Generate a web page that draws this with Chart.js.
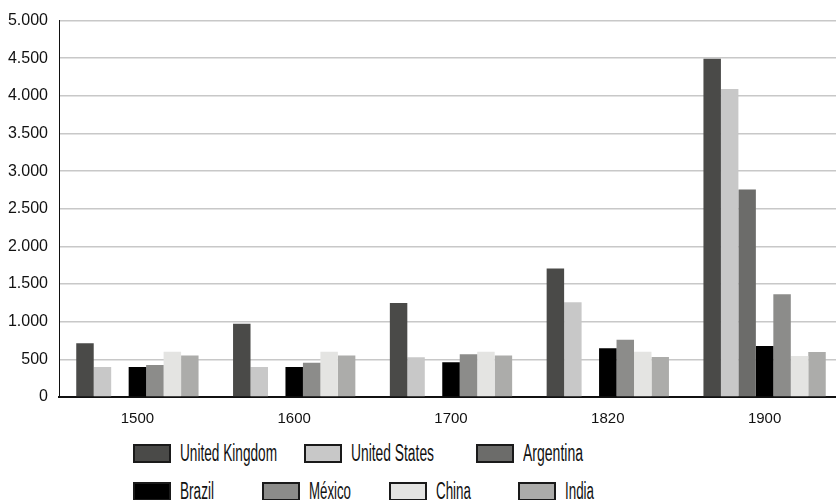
<!DOCTYPE html>
<html>
<head>
<meta charset="utf-8">
<script src="https://cdn.jsdelivr.net/npm/chart.js@4"></script>
<style>
  html, body { margin:0; padding:0; background:#fff; overflow:hidden; }
  #wrap { position:absolute; left:0; top:0; width:843px; height:433px; }
  .lg { position:absolute; display:flex; align-items:center; font-family:"Liberation Sans",Arial,sans-serif; font-size:23px; color:#111; white-space:nowrap; }
  .lg .bx { width:34px; height:15px; border:2px solid #1a1a1a; margin-right:9px; flex:none; }
  .lg .tx { display:inline-block; transform-origin:left center; }
</style>
</head>
<body>
<div id="wrap"><canvas id="c"></canvas></div>
<div id="legend"></div>
<script>
// ── Data ──────────────────────────────────────────────────────────
const years = ["1500", "1600", "1700", "1820", "1900"];
const countries = ["United Kingdom", "United States", "Argentina", "Brazil", "México", "China", "India"];
const colors = ["#4a4a48", "#c8c8c8", "#6c6c6a", "#000000", "#8c8c8a", "#e4e4e2", "#acacaa"];

const ukVals  = [714, 974, 1250, 1706, 4492];
const usVals  = [400, 400, 527, 1257, 4091];
const argVals = [null, null, null, null, 2756];
const braVals = [400, 400, 460, 646, 678];
const mexVals = [425, 454, 568, 759, 1366];
const chnVals = [600, 600, 600, 600, 545];
const indVals = [550, 550, 550, 533, 599];

const yTicks = [0, 500, 1000, 1500, 2000, 2500, 3000, 3500, 4000, 4500, 5000];

const series = [ukVals, usVals, argVals, braVals, mexVals, chnVals, indVals];

const fmtNum = v => String(v).replace(/\B(?=(\d{3})+(?!\d))/g, ".");

// ── Chart ─────────────────────────────────────────────────────────
new Chart(document.getElementById("c").getContext("2d"), {
  type: "bar",
  data: {
    labels: years,
    datasets: series.map((vals, i) => ({
      label: countries[i], data: vals, backgroundColor: colors[i], borderWidth: 0
    }))
  },
  options: {
    responsive: true, maintainAspectRatio: false, animation: false,
    layout: { padding: { top: 16, right: 0, left: 0, bottom: 0 } },
    datasets: { bar: { barPercentage: 1, categoryPercentage: 0.78 } },
    plugins: { legend: { display: false }, tooltip: { enabled: false } },
    scales: {
      x: {
        grid: { display: false },
        border: { color: "#111", width: 2 },
        ticks: { color: "#111", padding: 5, font: { family: "Liberation Sans", size: 15 } }
      },
      y: {
        min: 0, max: 5000,
        afterFit: s => { s.width = 59; },
        afterBuildTicks: s => { s.ticks = yTicks.map(v => ({ value: v })); },
        grid: { color: "#c8c8c8", lineWidth: 1.5, drawTicks: false },
        border: { color: "#111", width: 1 },
        ticks: { color: "#111", padding: 11, font: { family: "Liberation Sans", size: 16 }, callback: v => fmtNum(v) }
      }
    }
  }
});

// ── Legend (two rows) ─────────────────────────────────────────────
const rows = [
  { idx: [0, 1, 2], x: [133, 304, 476], y: 453 },
  { idx: [3, 4, 5, 6], x: [133, 262, 389, 518], y: 491 }
];
document.getElementById("legend").innerHTML = rows.map(r => r.idx.map((ci, k) => `
  <div class="lg" style="left:${r.x[k]}px;top:${r.y - 13}px;height:26px">
    <span class="bx" style="background:${colors[ci]}"></span>
    <span class="tx">${countries[ci]}</span>
  </div>`).join("")).join("");

// squeeze text to match the condensed face
document.querySelectorAll(".lg .tx").forEach(el => {
  const w = el.getBoundingClientRect().width;
  const target = { "United Kingdom": 97, "United States": 83, "Argentina": 60, "Brazil": 34, "México": 42, "China": 35, "India": 29 }[el.textContent];
  if (target && w > 0) el.style.transform = `scaleX(${(target / w).toFixed(3)})`;
});
</script>
</body>
</html>
